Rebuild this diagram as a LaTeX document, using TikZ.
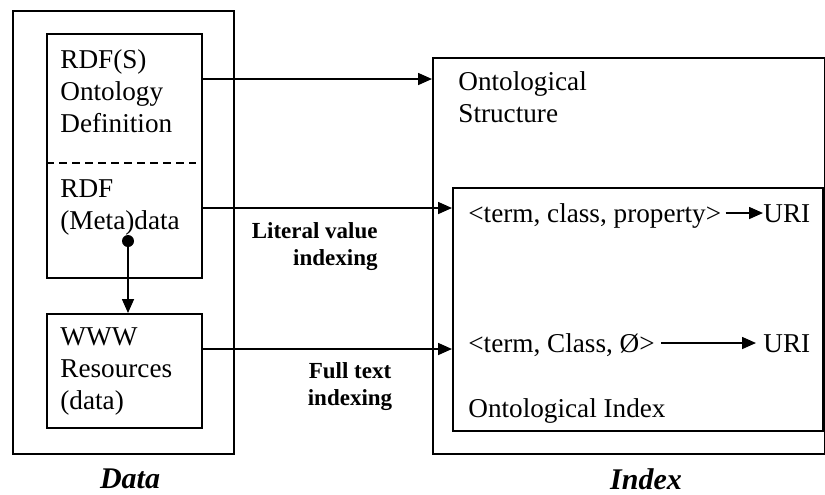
\documentclass[tikz,border=0pt]{standalone}
\usepackage{fontspec}
\setmainfont{Liberation Serif}
\usetikzlibrary{arrows.meta}

\tikzset{
  box/.style={draw, line width=0.8pt, inner sep=0pt, anchor=north west},
  txt/.style={inner sep=0pt, anchor=base west, align=left, font=\fontsize{13.6pt}{16pt}\selectfont},
  lbl/.style={inner sep=0pt, anchor=base, font=\bfseries\fontsize{11.5pt}{13.5pt}\selectfont},
  caption/.style={inner sep=0pt, anchor=base, font=\bfseries\itshape\fontsize{15pt}{18pt}\selectfont},
  arr/.style={line width=0.8pt, -{Triangle[length=7pt,width=6pt]}},
  tapdot/.style={circle, fill, inner sep=0pt, minimum size=6pt},
}

\begin{document}
\begin{tikzpicture}[x=0.5pt, y=-0.5pt]
    \useasboundingbox (0,0) rectangle (825,494);
    % data side (base anchor = last line)
    \node[box, minimum width=110.5pt, minimum height=221.5pt] (data) at (12,10) {};
    \node[box, minimum width=77.5pt, minimum height=122pt] (ontodef) at (46,33) {};
    \node[box, minimum width=77.5pt, minimum height=57pt] (www) at (46,313) {};
    \draw[line width=0.7pt, dash pattern=on 4pt off 2.5pt] (46,163) -- (196,163);
    \node[txt] (rdfs) at (60,132) {RDF(S)\\Ontology\\Definition};
    \node[txt] (rdf) at (60,229) {RDF\\(Meta)data};
    \node[txt] (wwwtxt) at (60,409) {WWW\\Resources\\(data)};
    \node[tapdot] (tap) at (128,241) {};
    \draw[arr] (tap) -- (tap |- www.north);
    \node[caption] (datacap) at (130,488) {Data};
    % index side
    \node[box, minimum width=196pt, minimum height=198pt] (index) at (432,57) {};
    \node[box, minimum width=185pt, minimum height=121.5pt] (ontoindex) at (452,187) {};
    \node[txt] (struct) at (458,122) {Ontological\\Structure};
    \node[txt] (term1) at (468,222) {<term, class, property>};
    \node[txt] (uri1) at (763,222) {URI};
    \node[txt] (term2) at (468,352) {<term, Class, Ø>};
    \node[txt] (uri2) at (763,352) {URI};
    \node[txt] (idxtxt) at (468,417) {Ontological Index};
    \node[caption] (indexcap) at (646,489) {Index};
    \draw[arr] ([xshift=2pt,yshift=4.5pt]term1.base east) -- ([yshift=4.5pt]uri1.base west);
    \draw[arr, shorten >=3.5pt] ([xshift=3pt,yshift=4.5pt]term2.base east) -- ([yshift=4.5pt]uri2.base west);
    % links
    \coordinate (r1) at (0,79);
    \coordinate (r2) at (0,208);
    \coordinate (r3) at (0,349);
    \draw[arr] (ontodef.east |- r1) -- (index.west |- r1);
    \draw[arr] (ontodef.east |- r2) -- (ontoindex.west |- r2);
    \draw[arr] (www.east |- r3) -- (ontoindex.west |- r3);
    \node[lbl, align=right, anchor=base east] (litlbl) at (378,265) {Literal value\\indexing};
    \node[lbl, align=center] (fulllbl) at (350,405) {Full text\\indexing};
\end{tikzpicture}
\end{document}
